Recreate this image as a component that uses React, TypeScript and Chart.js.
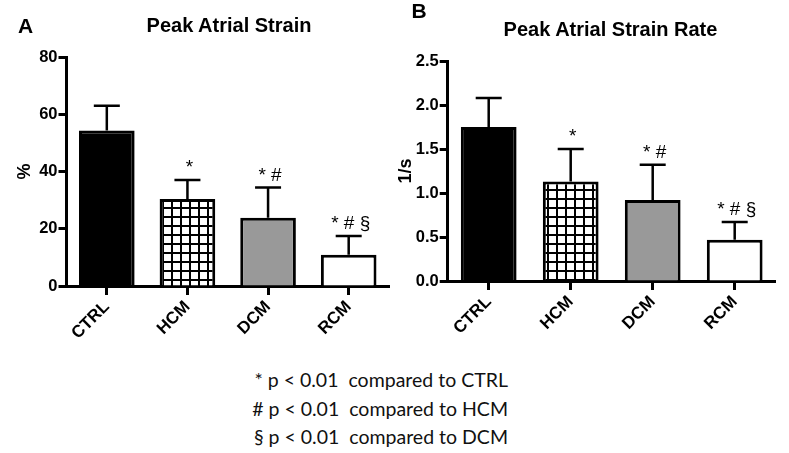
import React, { useEffect, useRef } from 'react';
import { Chart, registerables } from 'chart.js';

Chart.register(...registerables);

const categories = ['CTRL', 'HCM', 'DCM', 'RCM'];
const strainMeans = [54.3, 30.4, 23.8, 10.9];
const strainSD = [8.7, 6.6, 10.6, 6.6];
const rateMeans = [1.75, 1.13, 0.92, 0.47];
const rateSD = [0.33, 0.37, 0.4, 0.2];
const significance = ['', '*', '* #', '* # §'];
const footnotes = [
  '* p < 0.01  compared to CTRL',
  '# p < 0.01  compared to HCM',
  '§ p < 0.01  compared to DCM',
];

const FONT = "'Liberation Sans', Arial, sans-serif";

function makeHatch(ctx: CanvasRenderingContext2D) {
  const c = document.createElement('canvas');
  c.width = 9;
  c.height = 9;
  const g = c.getContext('2d')!;
  g.fillStyle = '#fff';
  g.fillRect(0, 0, 9, 9);
  g.fillStyle = '#000';
  g.fillRect(0, 0, 2, 9);
  g.fillRect(0, 0, 9, 2);
  return ctx.createPattern(c, 'repeat');
}

type PanelProps = {
  left: number;
  width: number;
  height: number;
  means: number[];
  sd: number[];
  yMax: number;
  yStep: number;
  decimals: number;
  yTitle: string;
  yTitlePad: number;
  yWidth: number;
  xHeight: number;
  padTop: number;
  padRight: number;
  barPct: number;
};

function Panel(p: PanelProps) {
  const ref = useRef<HTMLCanvasElement>(null);
  useEffect(() => {
    const canvas = ref.current!;
    const ctx = canvas.getContext('2d')!;
    const hatch = makeHatch(ctx);
    const errorPlugin = {
      id: 'errorBars',
      afterDatasetsDraw(chart: any) {
        const meta = chart.getDatasetMeta(0);
        const y = chart.scales.y;
        const c = chart.ctx;
        c.save();
        c.strokeStyle = '#000';
        c.lineWidth = 2.5;
        c.fillStyle = '#000';
        c.font = `19px ${FONT}`;
        c.textAlign = 'center';
        c.textBaseline = 'alphabetic';
        p.means.forEach((m, i) => {
          const x = meta.data[i].x;
          const top = y.getPixelForValue(m);
          const et = y.getPixelForValue(m + p.sd[i]);
          c.beginPath();
          c.moveTo(x, top);
          c.lineTo(x, et);
          c.moveTo(x - 13, et);
          c.lineTo(x + 13, et);
          c.stroke();
          if (significance[i]) c.fillText(significance[i], x + 2, et - 7);
        });
        c.restore();
      },
    };
    const chart = new Chart(canvas, {
      type: 'bar',
      data: {
        labels: categories,
        datasets: [
          {
            data: p.means,
            backgroundColor: ['#000', hatch as any, '#999999', '#fff'],
            borderColor: '#000',
            borderWidth: 3,
            barPercentage: p.barPct,
            categoryPercentage: 1,
          },
        ],
      },
      options: {
        responsive: false,
        animation: false,
        devicePixelRatio: 1,
        layout: { padding: { left: 0, top: p.padTop, right: p.padRight, bottom: 0 } },
        plugins: { legend: { display: false }, title: { display: false }, tooltip: { enabled: false } },
        scales: {
          x: {
            type: 'category',
            offset: true,
            grid: {
              display: true,
              drawOnChartArea: false,
              drawTicks: true,
              tickLength: 9,
              tickWidth: 3,
              tickColor: '#000',
              offset: false,
            },
            border: { display: true, color: '#000', width: 3 },
            ticks: {
              color: '#000',
              font: { family: FONT, size: 17, weight: 'bold' },
              minRotation: 45,
              maxRotation: 45,
              padding: 2,
            },
            afterFit(scale: any) {
              scale.height = p.xHeight;
            },
          },
          y: {
            min: 0,
            max: p.yMax,
            grid: {
              display: true,
              drawOnChartArea: false,
              drawTicks: true,
              tickLength: 8,
              tickWidth: 3,
              tickColor: '#000',
            },
            border: { display: true, color: '#000', width: 3 },
            ticks: {
              stepSize: p.yStep,
              color: '#000',
              font: { family: FONT, size: 16.5, weight: 'bold' },
              padding: 1,
              callback: (v: any) => Number(v).toFixed(p.decimals),
            },
            title: {
              display: true,
              text: p.yTitle,
              color: '#000',
              font: { family: FONT, size: 18, weight: 'bold' },
              padding: { top: p.yTitlePad, bottom: 0 },
            },
            afterFit(scale: any) {
              scale.width = p.yWidth;
            },
          },
        },
      },
      plugins: [errorPlugin],
    });
    return () => chart.destroy();
  }, []);
  return (
    <canvas
      ref={ref}
      width={p.width}
      height={p.height}
      style={{ position: 'absolute', left: p.left, top: 0, width: p.width, height: p.height }}
    />
  );
}

const centered = (x: number, y: number, extra: React.CSSProperties): React.CSSProperties => ({
  position: 'absolute',
  left: x,
  top: y,
  transform: 'translate(-50%, -50%)',
  whiteSpace: 'nowrap',
  color: '#000',
  ...extra,
});

export default function App() {
  const titleFont: React.CSSProperties = { fontFamily: FONT, fontWeight: 'bold', fontSize: 20, lineHeight: '20px' };
  return (
    <div style={{ position: 'absolute', left: 0, top: 0, width: 789, height: 453, background: '#fff', overflow: 'hidden' }}>
      <Panel
        left={0}
        width={400}
        height={340}
        means={strainMeans}
        sd={strainSD}
        yMax={80}
        yStep={20}
        decimals={0}
        yTitle="%"
        yTitlePad={14}
        yWidth={66.5}
        xHeight={54}
        padTop={57}
        padRight={11}
        barPct={0.69}
      />
      <Panel
        left={385}
        width={404}
        height={340}
        means={rateMeans}
        sd={rateSD}
        yMax={2.5}
        yStep={0.5}
        decimals={1}
        yTitle="1/s"
        yTitlePad={10}
        yWidth={62.7}
        xHeight={59}
        padTop={61}
        padRight={13.3}
        barPct={0.68}
      />
      <div style={centered(25.5, 24.5, { ...titleFont, fontSize: 21, lineHeight: '21px' })}>A</div>
      <div style={centered(419, 10, { ...titleFont, fontSize: 21, lineHeight: '21px' })}>B</div>
      <div style={centered(229, 25, titleFont)}>Peak Atrial Strain</div>
      <div style={centered(610.5, 29, titleFont)}>Peak Atrial Strain Rate</div>
      {footnotes.map((t, i) => (
        <div
          key={i}
          style={{
            position: 'absolute',
            right: 789 - 508,
            top: [380, 409, 436.5][i],
            transform: 'translateY(-50%)',
            fontFamily: "Lato, 'Open Sans', sans-serif",
            fontSize: 19.5,
            lineHeight: '20px',
            whiteSpace: 'pre',
            color: '#111',
          }}
        >
          {t}
        </div>
      ))}
    </div>
  );
}
